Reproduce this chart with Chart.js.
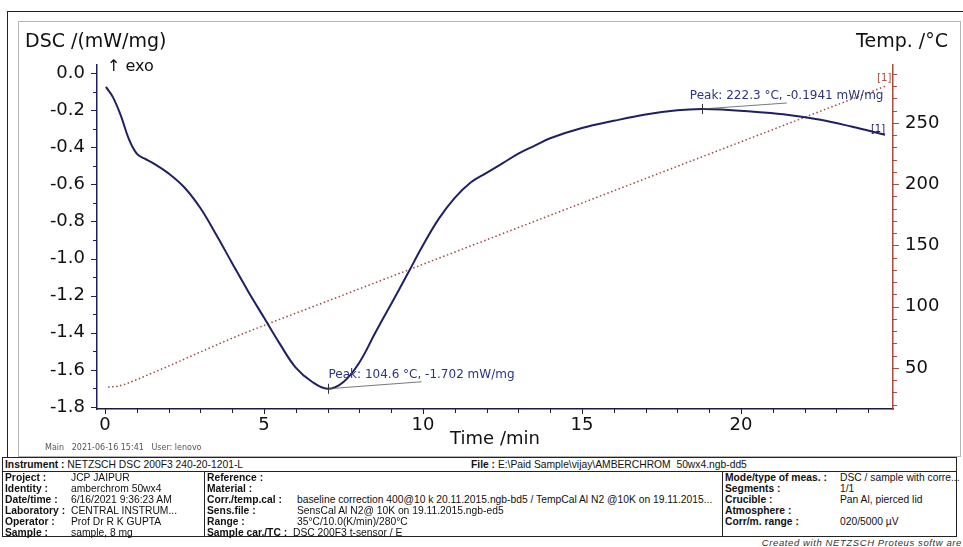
<!DOCTYPE html>
<html>
<head>
<meta charset="utf-8">
<title>DSC AMBERCHROM 50wx4</title>
<script src="https://cdn.jsdelivr.net/npm/chart.js@4.4.1/dist/chart.umd.min.js"></script>
<style>
    body { margin: 0; width: 963px; height: 547px; background: #fff; position: relative; overflow: hidden; font-family: "DejaVu Sans", sans-serif; }
    #outer { position: absolute; left: 7px; top: 11px; width: 960px; height: 446px; border-left: 1px solid #222; border-top: 1px solid #222; }
    #inner { position: absolute; left: 18px; top: 21px; width: 941px; height: 434px; border: 1px solid #b5b5b5; }
    #chart-wrap { position: absolute; left: 0; top: 0; width: 963px; height: 457px; }
    .txt { position: absolute; white-space: nowrap; color: #111; }
    .axis-title { font-size: 19px; line-height: 19px; }
    #info { position: absolute; left: 2px; top: 457px; width: 955px; height: 80px; border: 1px solid #222; box-sizing: border-box;
            font-family: "Liberation Sans", Arial, sans-serif; font-size: 10.3px; }
    #info .cell { position: absolute; white-space: nowrap; line-height: 11px; color: #111; }
    #info .b { font-weight: bold; }
    #info .hline { position: absolute; left: 0; right: 0; top: 13px; border-top: 1px solid #222; }
    #info .vline { position: absolute; top: 13px; bottom: 0; border-left: 1px solid #222; }
    #created { position: absolute; right: 1px; top: 537px; font-family: "Liberation Sans", Arial, sans-serif; letter-spacing: 0.6px;
               font-size: 9.5px; font-style: italic; color: #333; white-space: nowrap; }
</style>
</head>
<body>
<div id="outer"></div>
<div id="inner"></div>
<div id="chart-wrap"><canvas id="dsc-chart"></canvas></div>
<div class="txt axis-title" style="left:25px; top:31px;">DSC /(mW/mg)</div>
<div class="txt axis-title" style="right:15px; top:31px;">Temp. /°C</div>
<div class="txt" style="left:107px; top:58px; font-size:16px; line-height:16px;">↑ exo</div>
<div class="txt" style="left:45px; top:443px; font-size:8px; line-height:9px; color:#555;">Main&nbsp;&nbsp; 2021-06-16 15:41&nbsp;&nbsp; User: lenovo</div>
<div id="info"></div>
<div id="created">Created with NETZSCH Proteus softw are</div>

<script>
// DSC signal (time in min, DSC in mW/mg)
const dscTime = [0.03, 0.25, 0.5, 0.75, 1.0, 1.25, 1.5, 2.0, 2.5, 3.0, 3.5, 4.0, 4.5, 5.0, 5.5, 6.0, 6.5, 7.0,
                 7.5, 8.0, 8.5, 9.0, 9.5, 10.0, 10.5, 11.0, 11.5, 12.0, 12.5, 13.0, 13.5, 14.0, 15.0, 16.0, 17.0, 18.0,
                 18.77, 19.5, 20.5, 21.5, 22.5, 23.5, 24.53];
const dscValue = [-0.075, -0.13, -0.23, -0.355, -0.435, -0.462, -0.484, -0.541, -0.617, -0.728, -0.872, -1.025, -1.176, -1.318, -1.46, -1.588, -1.663, -1.702,
                  -1.665, -1.56, -1.40, -1.245, -1.088, -0.929, -0.785, -0.673, -0.59, -0.538, -0.487, -0.435, -0.393, -0.352, -0.297, -0.258, -0.224, -0.201,
                  -0.194, -0.198, -0.21, -0.226, -0.252, -0.29, -0.333];

// sample temperature (time in min, °C)
const tempTime = [0.1, 0.3, 0.6, 1.0, 1.5, 2.0, 3.0, 4.0, 5.0, 7.0, 10.0, 13.0, 16.0, 18.77, 22.0, 24.6];
const tempValue = [34.5, 34.7, 36.5, 40.5, 46.0, 51.5, 63.0, 74.3, 84.7, 104.6, 134.6, 164.6, 194.6, 222.3, 254.6, 280.6];

// axis ticks
const timeTicks = [0, 5, 10, 15, 20];
const dscTicks = [0.0, -0.2, -0.4, -0.6, -0.8, -1.0, -1.2, -1.4, -1.6, -1.8];
const tempTicks = [50, 100, 150, 200, 250];

// peaks
const peakTime = [7.0, 18.77];
const peakValue = [-1.702, -0.1941];
const peakLabel = ['Peak: 104.6 °C, -1.702 mW/mg', 'Peak: 222.3 °C, -0.1941 mW/mg'];

const NAVY = '#1d2163';
const RED = '#b04a3c';
const FONT = '"DejaVu Sans", sans-serif';

function toPoints(xs, ys) {
    return xs.map((x, i) => ({ x: x, y: ys[i] }));
}

function fixTicks(list) {
    return function (scale) {
        scale.ticks = list.map(v => ({ value: v }));
    };
}

function strokeLine(ctx, x1, y1, x2, y2) {
    ctx.beginPath();
    ctx.moveTo(x1, y1);
    ctx.lineTo(x2, y2);
    ctx.stroke();
}

// minor ticks, peak marks, [1] tags
const decorPlugin = {
    id: 'decor',
    afterDraw(chart) {
        const ctx = chart.ctx;
        const xs = chart.scales.x, ys = chart.scales.y, ts = chart.scales.y2;
        ctx.save();
        ctx.lineWidth = 1;

        ctx.strokeStyle = '#1c1c40';
        for (let t = 0; t <= 24; t++) {
            const px = Math.round(xs.getPixelForValue(t)) + 0.5;
            strokeLine(ctx, px, xs.top, px, xs.top + (t % 5 === 0 ? 5 : 4));
        }

        ctx.strokeStyle = NAVY;
        for (let i = 0; i <= 18; i++) {
            const py = Math.round(ys.getPixelForValue(-i / 10)) + 0.5;
            strokeLine(ctx, ys.right - (i % 2 === 0 ? 6 : 4), py, ys.right, py);
        }

        ctx.strokeStyle = RED;
        for (let v = 20; v <= 290; v += 10) {
            const py = Math.round(ts.getPixelForValue(v)) + 0.5;
            strokeLine(ctx, ts.left, py, ts.left + (v % 50 === 0 ? 6 : 4), py);
        }

        // peak annotations
        const labelOffset = [[1, -14], [-12, -13]];
        const leaderEnd = [[94, -7], [85, -6]];
        ctx.font = '12px ' + FONT;
        ctx.textBaseline = 'middle';
        peakTime.forEach((t, i) => {
            const px = xs.getPixelForValue(t), py = ys.getPixelForValue(peakValue[i]);
            ctx.strokeStyle = '#555';
            ctx.lineWidth = 0.8;
            strokeLine(ctx, px, py, px + leaderEnd[i][0], py + leaderEnd[i][1]);
            ctx.strokeStyle = '#333';
            ctx.lineWidth = 1;
            strokeLine(ctx, Math.round(px) + 0.5, py - 5, Math.round(px) + 0.5, py + 5);
            ctx.fillStyle = '#2b3580';
            ctx.fillText(peakLabel[i], px + labelOffset[i][0], py + labelOffset[i][1]);
        });

        // curve tags
        ctx.font = '10px ' + FONT;
        ctx.textAlign = 'center';
        const lastD = dscTime.length - 1, lastT = tempTime.length - 1;
        ctx.fillStyle = NAVY;
        ctx.fillText('[1]', xs.getPixelForValue(dscTime[lastD]) - 7, ys.getPixelForValue(dscValue[lastD]) - 5);
        ctx.fillStyle = RED;
        ctx.fillText('[1]', xs.getPixelForValue(tempTime[lastT]) - 3, ts.getPixelForValue(tempValue[lastT]) - 7);
        ctx.restore();
    }
};

function renderChart() {
    const ctx = document.getElementById('dsc-chart');
    new Chart(ctx, {
        type: 'line',
        data: {
            datasets: [
                {
                    label: 'DSC',
                    data: toPoints(dscTime, dscValue),
                    yAxisID: 'y',
                    borderColor: NAVY,
                    borderWidth: 2,
                    pointRadius: 0,
                    tension: 0.4
                },
                {
                    label: 'Temp',
                    data: toPoints(tempTime, tempValue),
                    yAxisID: 'y2',
                    borderColor: '#9c4a44',
                    borderWidth: 1.5,
                    borderDash: [1.5, 2.5],
                    pointRadius: 0,
                    cubicInterpolationMode: 'monotone'
                }
            ]
        },
        options: {
            responsive: true,
            maintainAspectRatio: false,
            devicePixelRatio: 1,
            animation: false,
            layout: { padding: { top: 65, left: 0, right: 0, bottom: 0 } },
            plugins: { legend: { display: false }, tooltip: { enabled: false } },
            scales: {
                x: {
                    type: 'linear',
                    position: 'bottom',
                    min: -0.25,
                    max: 24.78,
                    afterBuildTicks: fixTicks(timeTicks),
                    afterFit: s => { s.height = 48; },
                    grid: { drawOnChartArea: false, drawTicks: false },
                    border: { color: '#1c1c40', width: 1.5 },
                    ticks: { color: '#111', font: { family: FONT, size: 18 }, padding: 6, maxRotation: 0 },
                    title: { display: true, text: 'Time /min', color: '#111', font: { family: FONT, size: 18 }, padding: { top: 0, bottom: 7 } }
                },
                y: {
                    position: 'left',
                    min: -1.811,
                    max: 0.043,
                    afterBuildTicks: fixTicks(dscTicks),
                    afterFit: s => { s.width = 97; },
                    grid: { drawOnChartArea: false, drawTicks: false },
                    border: { color: NAVY, width: 1.5 },
                    ticks: { color: '#111', font: { family: FONT, size: 18 }, padding: 12, callback: v => v.toFixed(1) }
                },
                y2: {
                    position: 'right',
                    min: 16.5,
                    max: 297.3,
                    afterBuildTicks: fixTicks(tempTicks),
                    afterFit: s => { s.width = 70; },
                    grid: { drawOnChartArea: false, drawTicks: false },
                    border: { color: RED, width: 1.5 },
                    ticks: { color: '#111', font: { family: FONT, size: 18 }, padding: 12 }
                }
            }
        },
        plugins: [decorPlugin]
    });
}

// measurement info block below the plot
function renderInfo() {
    const info = document.getElementById('info');
    const cols = [
        { lx: 2, vx: 68, rows: [['Project :', 'JCP JAIPUR'], ['Identity :', 'amberchrom 50wx4'], ['Date/time :', '6/16/2021 9:36:23 AM'],
                                ['Laboratory :', 'CENTRAL INSTRUM...'], ['Operator :', 'Prof Dr R K GUPTA'], ['Sample :', 'sample, 8 mg']] },
        { lx: 204, vx: 294, rows: [['Reference :', ''], ['Material :', ''],
                                  ['Corr./temp.cal :', 'baseline correction 400@10 k 20.11.2015.ngb-bd5 / TempCal Al N2 @10K on 19.11.2015...'],
                                  ['Sens.file :', 'SensCal Al N2@ 10K on 19.11.2015.ngb-ed5'], ['Range :', '35°C/10.0(K/min)/280°C'],
                                  ['Sample car./TC :', 'DSC 200F3 t-sensor / E']] },
        { lx: 722, vx: 837, rows: [['Mode/type of meas. :', 'DSC / sample with corre...'], ['Segments :', '1/1'],
                                  ['Crucible :', 'Pan Al, pierced lid'], ['Atmosphere :', ''], ['Corr/m. range :', '020/5000 µV'], ['', '']] }
    ];
    let html = '<div class="cell"  style="left:2px; top:1px;"><span class="b">Instrument :</span> NETZSCH DSC 200F3 240-20-1201-L</div>' +
               '<div class="cell" style="left:468px; top:1px;"><span class="b">File :</span> E:\\Paid Sample\\vijay\\AMBERCHROM&nbsp; 50wx4.ngb-dd5</div>' +
               '<div class="hline"></div>' +
               '<div class="vline" style="left:201px;"></div><div class="vline" style="left:719px;"></div>';
    cols.forEach(c => {
        c.rows.forEach((r, i) => {
            const top = 14 + i * 11;
            html += '<div class="cell b" style="left:' + c.lx + 'px; top:' + top + 'px;">' + r[0] + '</div>';
            const vx = (r[0] === 'Sample car./TC :') ? c.vx - 4 : c.vx;
            html += '<div class="cell" style="left:' + vx + 'px; top:' + top + 'px;">' + r[1] + '</div>';
        });
    });
    info.innerHTML = html;
}

renderChart();
renderInfo();
</script>
</body>
</html>
